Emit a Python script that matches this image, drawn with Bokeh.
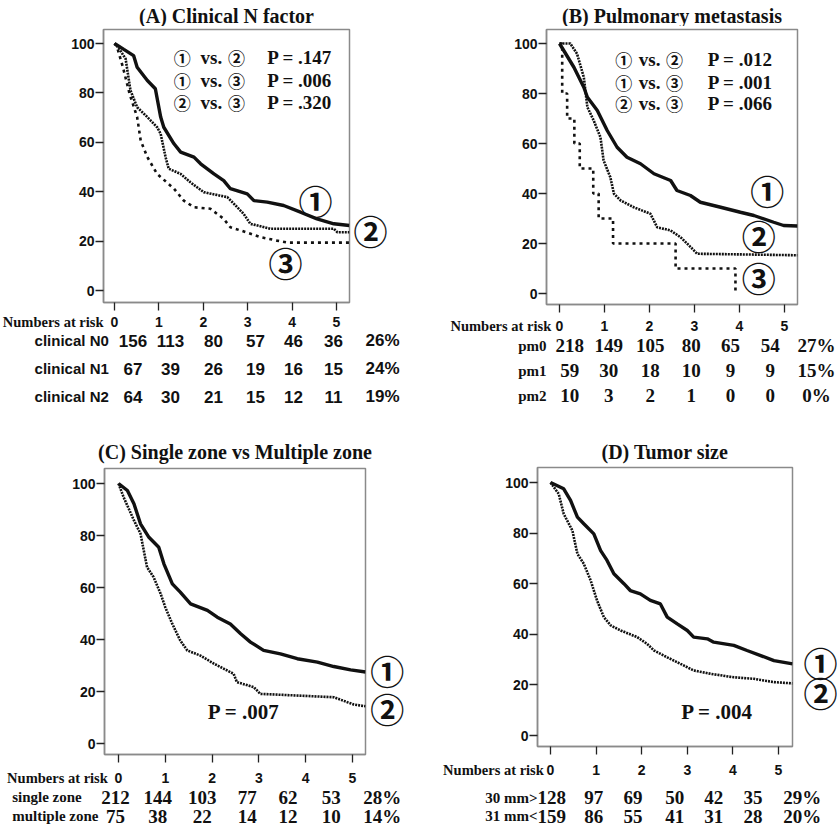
from bokeh.plotting import figure
from bokeh.models import ColumnDataSource, FixedTicker, Range1d
from bokeh.layouts import row, column
from bokeh.embed import file_html
from bokeh.resources import INLINE
from bokeh.core.properties import value

SERIF = "Liberation Serif"
SANS = "Liberation Sans"
CJK = "Noto Sans CJK JP"
INK = "#111111"
FRAME = "#8a8a8a"

YEARS = [0, 1, 2, 3, 4, 5]
PCT_TICKS = [0, 20, 40, 60, 80, 100]
HEADER = "Numbers at risk"

# ---------------- Panel A: clinical N factor ----------------
A_TITLE = "(A) Clinical N factor"
a_n0_t = [0, 0.21, 0.43, 0.51, 0.74, 0.92, 1.04, 1.11, 1.34, 1.49, 1.79, 1.94, 2.24, 2.46, 2.61, 2.99, 3.14, 3.44, 3.81, 4.19, 4.56, 4.94, 5.29]
a_n0_s = [100, 97.6, 95.1, 90.4, 85, 81.7, 70.2, 66.1, 59.4, 56, 54, 51.3, 47.2, 44.5, 41.2, 39.1, 36.4, 35.8, 34.4, 31.7, 29, 27, 26.3]
a_n1_t = [0, 0.1, 0.25, 0.36, 0.51, 0.74, 0.96, 1.04, 1.15, 1.22, 1.49, 1.71, 2.01, 2.54, 2.69, 2.91, 3.06, 3.51, 4.94, 5.02, 5.29]
a_n1_s = [100, 98, 93.8, 81, 74.2, 70.2, 66.1, 63.4, 54, 49.3, 47.2, 43.8, 39.8, 37.8, 35.1, 31, 27, 25, 25, 23.6, 23.6]
a_n2_t = [0, 0.05, 0.19, 0.34, 0.51, 0.59, 0.74, 0.96, 1.34, 1.56, 1.79, 2.16, 2.46, 2.61, 2.84, 3.29, 3.66, 3.9, 5.29]
a_n2_s = [100, 99, 90.4, 79.6, 70.2, 60.7, 54, 47.2, 41.2, 36.4, 33.7, 33.1, 29, 25.6, 24.3, 21.6, 20.2, 19.4, 19.4]
a_groups = ["clinical N0", "clinical N1", "clinical N2"]
a_risk_n0 = [156, 113, 80, 57, 46, 36]
a_risk_n1 = [67, 39, 26, 19, 16, 15]
a_risk_n2 = [64, 30, 21, 15, 12, 11]
a_5yr = [26, 24, 19]
a_cmp_left = ["①", "①", "②"]
a_cmp_right = ["②", "③", "③"]
a_pvals = [".147", ".006", ".320"]

# ---------------- Panel B: pulmonary metastasis ----------------
B_TITLE = "(B) Pulmonary metastasis"
b_pm0_t = [0, 0.32, 0.54, 0.62, 0.84, 1.06, 1.28, 1.5, 1.8, 2.1, 2.47, 2.61, 2.91, 3.13, 3.58, 4.02, 4.32, 4.76, 4.98, 5.29]
b_pm0_s = [100, 90.5, 82.5, 78.5, 73.2, 65.2, 58.5, 54.5, 51.9, 47.9, 45.2, 41.2, 39.2, 36.5, 34.5, 32.5, 31.2, 28.5, 27.2, 27]
b_pm1_t = [0, 0.24, 0.39, 0.54, 0.62, 0.76, 0.91, 0.98, 1.13, 1.21, 1.36, 1.65, 2.02, 2.17, 2.47, 2.69, 2.84, 3.06, 5.29]
b_pm1_s = [100, 100, 95.9, 86.5, 74.5, 69.2, 62.5, 53.2, 46.5, 39.9, 37.2, 34.5, 31.9, 26.5, 25.2, 22.5, 19.9, 15.9, 15.3]
b_pm2_t = [0, 0.06, 0.17, 0.33, 0.45, 0.75, 0.87, 1.19, 2.58, 3.91]
b_pm2_s = [100, 80, 70, 60, 50, 40, 30, 20, 10, 0]
b_groups = ["pm0", "pm1", "pm2"]
b_risk_pm0 = [218, 149, 105, 80, 65, 54]
b_risk_pm1 = [59, 30, 18, 10, 9, 9]
b_risk_pm2 = [10, 3, 2, 1, 0, 0]
b_5yr = [27, 15, 0]
b_cmp_left = ["①", "①", "②"]
b_cmp_right = ["②", "③", "③"]
b_pvals = [".012", ".001", ".066"]

# ---------------- Panel C: single vs multiple zone ----------------
C_TITLE = "(C) Single zone vs Multiple zone"
c_single_t = [0, 0.19, 0.33, 0.47, 0.65, 0.86, 0.97, 1.15, 1.32, 1.54, 1.9, 2.11, 2.39, 2.61, 2.82, 3.1, 3.46, 3.82, 4.25, 4.6, 4.96, 5.28]
c_single_s = [100, 97.3, 92.2, 84.5, 79.3, 75.5, 69.1, 61.4, 58.2, 53.7, 51.2, 48.6, 46, 42.2, 39, 35.8, 34.5, 32.6, 31.3, 29.6, 28.3, 27.5]
c_multi_t = [0, 0.11, 0.33, 0.47, 0.61, 0.75, 0.9, 1.0, 1.15, 1.32, 1.47, 1.75, 2.04, 2.46, 2.53, 2.89, 3.03, 4.6, 4.89, 5.03, 5.28]
c_multi_s = [100, 94.7, 85.8, 80.7, 67.8, 64, 57.6, 52.4, 46, 39.6, 35.8, 33.8, 30.7, 26.8, 23.6, 21.7, 19.1, 17.8, 15.9, 15, 14.3]
c_groups = ["single zone", "multiple zone"]
c_risk_single = [212, 144, 103, 77, 62, 53]
c_risk_multi = [75, 38, 22, 14, 12, 10]
c_5yr = [28, 14]
c_pval = ".007"

# ---------------- Panel D: tumor size ----------------
D_TITLE = "(D) Tumor size"
d_small_t = [0, 0.29, 0.44, 0.59, 0.73, 0.95, 1.1, 1.24, 1.39, 1.61, 1.75, 1.97, 2.19, 2.41, 2.56, 2.78, 3.0, 3.14, 3.44, 3.58, 4.02, 4.31, 4.61, 4.9, 5.31]
d_small_s = [100, 97.5, 92.9, 86.3, 83.7, 79.7, 73.1, 69.2, 63.9, 60, 57.3, 56, 53.4, 52, 46.8, 44.1, 41.5, 38.9, 38.2, 36.9, 35.6, 33.6, 31.6, 29.6, 28.3]
d_large_t = [0, 0.18, 0.29, 0.48, 0.59, 0.73, 0.88, 1.02, 1.17, 1.32, 1.54, 1.9, 2.12, 2.27, 2.56, 2.92, 3.14, 3.51, 4.02, 4.46, 4.9, 5.31]
d_large_s = [100, 95.5, 87.6, 81, 71.8, 67.9, 61.3, 53.4, 46.8, 43.5, 41.5, 38.9, 36.2, 33.6, 30.9, 27.7, 25.7, 24.4, 23, 22.4, 21.1, 20.6]
d_groups = ["30 mm>", "31 mm<"]
d_risk_small = [128, 97, 69, 50, 42, 35]
d_risk_large = [159, 86, 55, 41, 31, 28]
d_5yr = [29, 20]
d_pval = ".004"

# ---------------- page geometry (pixels) ----------------
# ox/oy/pw/ph: panel block; L,R,T,B: plot box; x0/ppx: pixel of year 0 and px per year;
# y0/ppu: pixel of 0 % and px per percent point; tb: title baseline
GEO = {
    "A": dict(ox=0, oy=0, pw=418, ph=420, L=103, R=349, T=29, B=302, x0=114, ppx=44.4, y0=290, ppu=2.47, tb=15),
    "B": dict(ox=418, oy=0, pw=419, ph=420, L=546, R=797, T=29, B=304, x0=559, ppx=45.0, y0=293, ppu=2.5, tb=15),
    "C": dict(ox=0, oy=420, pw=418, ph=410, L=104, R=365, T=468, B=754, x0=118, ppx=46.8, y0=743, ppu=2.6, tb=451),
    "D": dict(ox=418, oy=420, pw=419, ph=410, L=537, R=792, T=467, B=746, x0=550, ppx=45.6, y0=735, ppu=2.53, tb=451),
}
TOP_PAD, BOT_PAD = 3, 10


def texts(p, xs, ys, labels, font, size, style="bold", align="center", baseline="middle"):
    src = ColumnDataSource(dict(x=list(xs), y=list(ys), t=[str(s) for s in labels]))
    p.text(x="x", y="y", text="t", source=src, text_font=value(font),
           text_font_size=value(size), text_font_style=style, text_align=align,
           text_baseline=baseline, text_color=INK)


def plain_fig(xr, yr, w, h, top=0, bottom=0):
    p = figure(width=w, height=h, x_range=xr, y_range=yr,
               output_backend="svg", toolbar_location=None,
               x_axis_type=None, y_axis_type=None,
               min_border_left=0, min_border_right=0,
               min_border_top=top, min_border_bottom=bottom)
    p.grid.visible = False
    p.outline_line_color = None
    return p


class Panel:
    def __init__(self, g, title, side):
        self.g = g
        ox, oy, pw, ph = g["ox"], g["oy"], g["pw"], g["ph"]
        L, R, T, B = g["L"], g["R"], g["T"], g["B"]
        # title strip
        sh = T - TOP_PAD - oy
        self.strip = plain_fig(Range1d(0, pw), Range1d(sh, 0), pw, sh)
        texts(self.strip, [(L + R) / 2 - ox], [g["tb"] - oy], [title], SERIF, "20px",
              baseline="alphabetic")
        # survival plot
        kw = (R - ox + 2) if side else pw
        kh = TOP_PAD + (B - T) + BOT_PAD
        p = figure(width=kw, height=kh,
                   x_range=Range1d(self.xd(L), self.xd(R)),
                   y_range=Range1d(self.yd(B), self.yd(T)),
                   output_backend="svg", toolbar_location=None,
                   min_border_left=L - ox, min_border_right=kw - (R - ox),
                   min_border_top=TOP_PAD, min_border_bottom=BOT_PAD)
        p.grid.visible = False
        p.outline_line_color = FRAME
        p.outline_line_width = 1.5
        p.xaxis.ticker = FixedTicker(ticks=YEARS)
        p.yaxis.ticker = FixedTicker(ticks=PCT_TICKS)
        for ax in (p.xaxis[0], p.yaxis[0]):
            ax.axis_line_color = FRAME
            ax.axis_line_width = 1.5
            ax.major_tick_line_color = "#222222"
            ax.major_tick_line_width = 1.3
            ax.minor_tick_line_color = None
            ax.major_tick_in = 0
            ax.major_label_text_font = SANS
            ax.major_label_text_font_style = "bold"
            ax.major_label_text_color = INK
        p.yaxis.major_label_text_font_size = "14px"
        p.yaxis.major_tick_out = 8
        p.yaxis.major_label_standoff = 1
        # year labels sit on the "Numbers at risk" row of the table below
        p.xaxis.major_tick_out = 8
        p.xaxis.major_label_text_font_size = "0px"
        p.xaxis.major_label_text_color = None
        p.xaxis.major_label_standoff = 0
        self.km = p
        self.side = None
        if side:
            sw = pw - kw
            self.side = plain_fig(Range1d(0, sw), p.y_range, sw, kh, top=TOP_PAD, bottom=BOT_PAD)
        # risk table
        rt = B + BOT_PAD
        rb = oy + ph
        self.risk = plain_fig(Range1d(self.xd(ox), self.xd(ox + pw)),
                              Range1d(self.yd(rb), self.yd(rt)), pw, rb - rt)

    def xd(self, px):
        return (px - self.g["x0"]) / self.g["ppx"]

    def yd(self, py):
        return (self.g["y0"] - py) / self.g["ppu"]

    def side_labels(self, px, pys, labels):
        kx = self.g["R"] + 2
        texts(self.side, [px - kx] * len(pys), [self.yd(v) for v in pys], labels, CJK, BIG)

    def legend_block(self, px1, pxv, px2, pxp, pys, left, right, pvals):
        p, ys = self.km, [self.yd(v) for v in pys]
        texts(p, [self.xd(px1)] * 3, ys, left, CJK, "17px")
        texts(p, [self.xd(pxv)] * 3, ys, ["vs."] * 3, SERIF, "19px", align="left")
        texts(p, [self.xd(px2)] * 3, ys, right, CJK, "17px")
        texts(p, [self.xd(pxp)] * 3, ys, [f"P = {v}" for v in pvals], SERIF, "19px", align="left")

    def risk_table(self, hx, hy, lx, lys, groups, rows, pcts, cols, lfont, lsize, nfont, nsize,
                   lalign="right"):
        r = self.risk
        y_h = self.yd(hy)
        texts(r, [self.xd(hx)], [y_h], [HEADER], SERIF, "14.5px", align="right")
        texts(r, YEARS, [y_h] * len(YEARS), YEARS, SANS, "14px")
        ys = [self.yd(v) for v in lys]
        texts(r, [self.xd(lx)] * len(groups), ys, groups, lfont, lsize, align=lalign)
        xs, yy, ts = [], [], []
        for vals, yv, pc in zip(rows, ys, pcts):
            for c, v in zip(cols[:-1], vals):
                xs.append(self.xd(c)); yy.append(yv); ts.append(v)
            xs.append(self.xd(cols[-1])); yy.append(yv); ts.append(f"{pc}%")
        texts(r, xs, yy, ts, nfont, nsize)

    def layout(self):
        mid = row(self.km, self.side) if self.side is not None else row(self.km)
        return column(self.strip, mid, self.risk)


SOLID = dict(line_width=3.4, color=INK)
DENSE = dict(line_width=2.6, color=INK, line_dash="2 1")
SPARSE = dict(line_width=2.6, color=INK, line_dash="3 4")
BIG = "34px"

# ---- A ----
A = Panel(GEO["A"], A_TITLE, side=True)
A.km.line(a_n0_t, a_n0_s, **SOLID)
A.km.line(a_n1_t, a_n1_s, **DENSE)
A.km.line(a_n2_t, a_n2_s, **SPARSE)
A.legend_block(181.7, 200, 236, 266.7, [57, 80, 102], a_cmp_left, a_cmp_right, a_pvals)
texts(A.km, [A.xd(315), A.xd(285)], [A.yd(200), A.yd(262)], ["①", "③"], CJK, BIG)
A.side_labels(370, [230], ["②"])
A.risk_table(103, 321.7, 108.3, [340, 368.3, 396], a_groups,
             [a_risk_n0, a_risk_n1, a_risk_n2], a_5yr,
             [132.5, 170, 213, 255, 293, 333, 382], SANS, "15px", SANS, "17px")

# ---- B ----
Bp = Panel(GEO["B"], B_TITLE, side=False)
Bp.km.line(b_pm0_t, b_pm0_s, **SOLID)
Bp.km.line(b_pm1_t, b_pm1_s, **DENSE)
Bp.km.step(b_pm2_t, b_pm2_s, mode="after", **SPARSE)
Bp.legend_block(623.3, 638.3, 674, 707.3, [59.3, 81.7, 103.3], b_cmp_left, b_cmp_right, b_pvals)
texts(Bp.km, [Bp.xd(766.7), Bp.xd(758.3), Bp.xd(758.3)],
      [Bp.yd(190), Bp.yd(235), Bp.yd(276.7)], ["①", "②", "③"], CJK, BIG)
Bp.risk_table(550.7, 325, 546, [345, 370, 395], b_groups,
              [b_risk_pm0, b_risk_pm1, b_risk_pm2], b_5yr,
              [569.2, 608.3, 649.7, 690.8, 730, 769.7, 816], SERIF, "15px", SERIF, "19px")

# ---- C ----
C = Panel(GEO["C"], C_TITLE, side=True)
C.km.line(c_single_t, c_single_s, **SOLID)
C.km.line(c_multi_t, c_multi_s, **DENSE)
texts(C.km, [C.xd(243.3)], [C.yd(711.7)], [f"P = {c_pval}"], SERIF, "21px")
C.side_labels(386.7, [670, 708.3], ["①", "②"])
C.risk_table(107.3, 777.3, 11.7, [796.7, 815.7], c_groups,
             [c_risk_single, c_risk_multi], c_5yr,
             [115, 157.3, 201.7, 246.7, 287.5, 330.8, 381.7], SERIF, "15px", SERIF, "19px",
             lalign="left")

# ---- D ----
D = Panel(GEO["D"], D_TITLE, side=True)
D.km.line(d_small_t, d_small_s, **SOLID)
D.km.line(d_large_t, d_large_s, **DENSE)
texts(D.km, [D.xd(716.7)], [D.yd(711.7)], [f"P = {d_pval}"], SERIF, "21px")
D.side_labels(820, [661.7, 691.7], ["①", "②"])
D.risk_table(543.3, 769, 537, [797.3, 815.7], d_groups,
             [d_risk_small, d_risk_large], d_5yr,
             [551.2, 593.3, 632.5, 674.2, 713.3, 752.5, 801.7], SERIF, "15px", SERIF, "19px")

layout = column(row(A.layout(), Bp.layout()), row(C.layout(), D.layout()))
open("out.html", "w").write(file_html(layout, INLINE))
